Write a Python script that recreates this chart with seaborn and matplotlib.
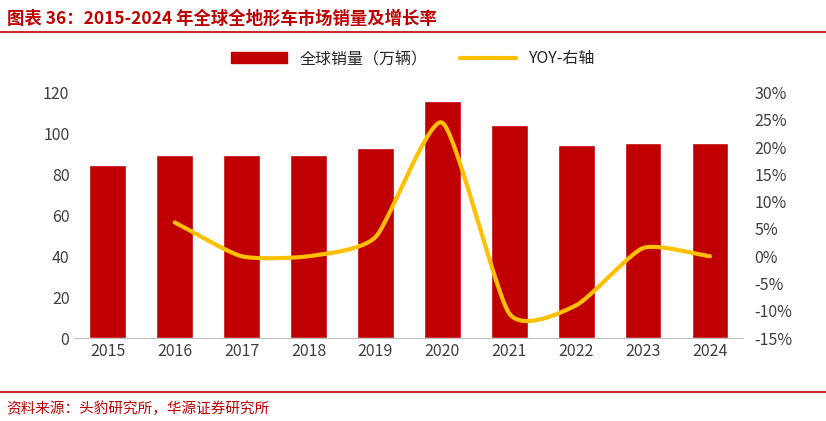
import numpy as np
import pandas as pd
import matplotlib
matplotlib.use("Agg")
import matplotlib.pyplot as plt
import seaborn as sns
from matplotlib.lines import Line2D

sns.set_style("white")
plt.rcParams['font.family'] = ['Noto Sans CJK SC', 'DejaVu Sans']

years = ["2015","2016","2017","2018","2019","2020","2021","2022","2023","2024"]
sales = [84.5, 89.5, 89.5, 89.5, 93, 116, 104, 94.5, 95.5, 95.5]
yoy_years = years[1:]
yoy = [6.2, 0.0, 0.0, 3.5, 24.5, -10.5, -9.0, 1.5, 0.0]

fig = plt.figure(figsize=(8.26, 4.21), dpi=100)
ax = fig.add_axes([0.09, 0.197, 0.81, 0.583])
df = pd.DataFrame({"year": years, "sales": sales})
sns.barplot(data=df, x="year", y="sales", color="#C00000", width=0.55, saturation=1, ax=ax)
ax.set_ylim(0, 120)
ax.set_yticks(range(0, 121, 20))
ax.set_xlabel(""); ax.set_ylabel("")
for s in ax.spines.values():
    s.set_visible(False)
ax.spines['bottom'].set_visible(True); ax.spines['bottom'].set_color('#BFBFBF')
ax.tick_params(axis='both', labelsize=11.5, colors='#404040', length=0)

ax2 = ax.twinx()
xs = np.arange(1, len(years)).astype(float)
ys = np.array(yoy)
# Cardinal spline smoothing (reduced tension) for the line drawing
n = len(xs)
mx = np.gradient(xs) * 0.6
my = np.zeros(n)
for i in range(n):
    lo, hi = max(i-1, 0), min(i+1, n-1)
    my[i] = (ys[hi]-ys[lo])/(hi-lo) * 0.6
t = np.linspace(0, 1, 30)
h00 = 2*t**3-3*t**2+1; h10 = t**3-2*t**2+t; h01 = -2*t**3+3*t**2; h11 = t**3-t**2
sx, sy = [], []
for i in range(n-1):
    sx.extend(h00*xs[i]+h10*mx[i]+h01*xs[i+1]+h11*mx[i+1])
    sy.extend(h00*ys[i]+h10*my[i]+h01*ys[i+1]+h11*my[i+1])
sns.lineplot(x=sx, y=sy, color="#FFC000", linewidth=3, ax=ax2, sort=False, estimator=None)
ax2.set_ylim(-15, 30)
ax2.set_yticks(range(-15, 31, 5))
ax2.set_yticklabels([f"{v}%" for v in range(-15, 31, 5)])
ax2.set_xlim(-0.5, len(years)-0.5)
ax2.tick_params(axis='y', labelsize=11.5, colors='#404040', length=0, pad=8)
for s in ax2.spines.values():
    s.set_visible(False)

handles = [plt.Rectangle((0,0),1,1,color="#C00000"), Line2D([0],[0],color="#FFC000",lw=3)]
fig.legend(handles, ["全球销量（万辆）", "YOY-右轴"], loc="center", bbox_to_anchor=(0.5, 0.86),
           ncol=2, frameon=False, fontsize=11.5, handlelength=3.5, columnspacing=2)

fig.text(0.008, 0.955, "图表 36：2015-2024 年全球全地形车市场销量及增长率", color="#C00000",
         fontsize=12.5, fontweight="bold", va="center")
fig.add_artist(Line2D([0.0, 1.0], [0.925, 0.925], color="#C00000", lw=1.2))
fig.add_artist(Line2D([0.0, 1.0], [0.068, 0.068], color="#C00000", lw=1.2))
fig.text(0.008, 0.03, "资料来源：头豹研究所，华源证券研究所", color="#C00000", fontsize=10.5, va="center")

fig.savefig("out.png", dpi=100)
